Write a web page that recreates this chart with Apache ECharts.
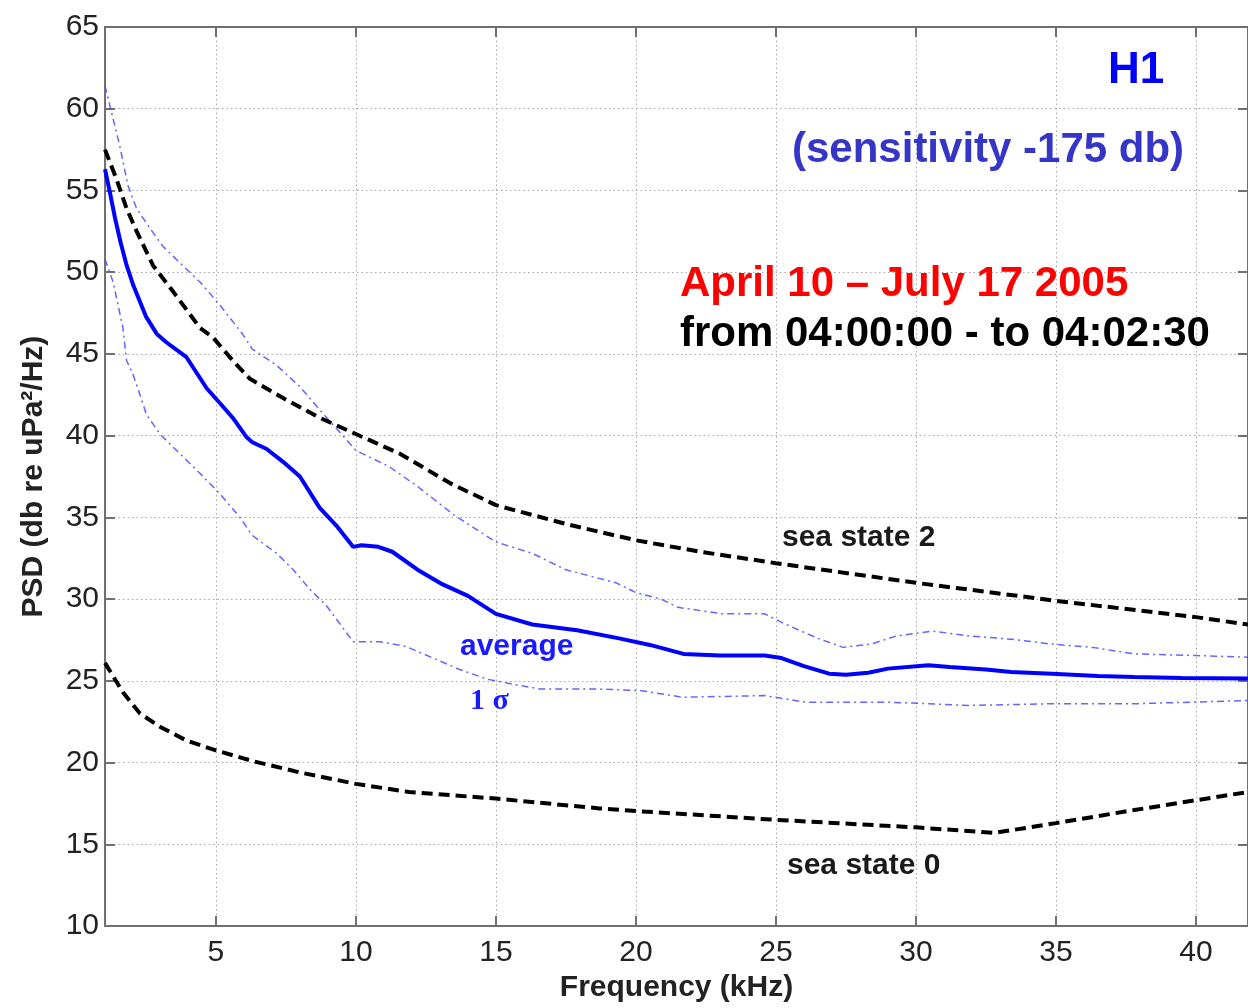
<!DOCTYPE html>
<html>
<head>
<meta charset="utf-8">
<script src="https://cdn.jsdelivr.net/npm/echarts@6/dist/echarts.min.js"></script>
<style>html,body{margin:0;padding:0;background:#fff;}#chart{width:1248px;height:1008px;}</style>
</head>
<body>
<div id="chart"></div>
<script>
// ---- data ----
const xTicks = [5, 10, 15, 20, 25, 30, 35, 40];
const yTicks = [10, 15, 20, 25, 30, 35, 40, 45, 50, 55, 60, 65];

const avgFreq = [1.04, 1.2, 1.4, 1.6, 1.8, 2.05, 2.5, 2.9, 3.24, 3.95, 4.67, 5.14, 5.6, 6.1, 6.3, 6.8, 7.4, 8.0, 8.7, 9.3, 9.9, 10.2, 10.8, 11.3, 12.2, 13.1, 14.0, 15.0, 16.3, 17.9, 19.4, 20.5, 21.7, 23.0, 24.6, 25.2, 26.0, 26.9, 27.5, 28.3, 29.0, 30.45, 31.2, 32.5, 33.4, 34.85, 36.5, 37.8, 39.5, 41.86];
const avgPsd  = [56.3, 55.0, 53.3, 51.8, 50.5, 49.2, 47.3, 46.2, 45.7, 44.8, 42.9, 42.0, 41.1, 39.9, 39.6, 39.2, 38.4, 37.5, 35.6, 34.5, 33.2, 33.3, 33.2, 32.9, 31.8, 30.9, 30.2, 29.1, 28.45, 28.1, 27.6, 27.2, 26.65, 26.55, 26.55, 26.4, 25.9, 25.44, 25.38, 25.5, 25.75, 25.95, 25.85, 25.7, 25.55, 25.44, 25.3, 25.24, 25.18, 25.15];

const upFreq = [1.04, 1.27, 1.57, 1.86, 2.17, 2.64, 3.1, 3.7, 4.43, 5.14, 5.96, 6.3, 7.17, 8.0, 8.7, 10.0, 11.2, 12.2, 13.5, 15.0, 16.3, 17.5, 19.3, 20.0, 20.9, 21.5, 23.1, 24.6, 25.3, 26.5, 27.4, 28.4, 29.3, 30.6, 31.9, 33.4, 34.85, 36.3, 37.8, 40.0, 41.86];
const upPsd  = [61.4, 59.8, 57.7, 55.3, 53.9, 52.7, 51.6, 50.6, 49.4, 48.0, 46.2, 45.3, 44.3, 43.0, 41.6, 39.1, 38.1, 36.9, 35.15, 33.5, 32.8, 31.8, 31.0, 30.4, 30.0, 29.5, 29.1, 29.1, 28.5, 27.6, 27.05, 27.25, 27.75, 28.05, 27.75, 27.55, 27.25, 27.05, 26.65, 26.55, 26.45];

const loFreq = [1.04, 1.33, 1.68, 1.81, 2.05, 2.29, 2.52, 3.0, 3.71, 4.43, 5.14, 5.86, 6.3, 7.17, 7.76, 8.36, 8.95, 9.9, 10.86, 11.8, 12.75, 13.7, 14.7, 15.6, 16.6, 18.7, 20.2, 21.66, 24.6, 26.05, 29.0, 31.9, 34.85, 37.8, 41.86];
const loPsd  = [50.8, 49.4, 46.6, 44.6, 43.7, 42.5, 41.3, 40.1, 38.9, 37.7, 36.45, 35.0, 33.9, 32.8, 31.8, 30.6, 29.6, 27.4, 27.4, 27.1, 26.4, 25.7, 25.1, 24.8, 24.5, 24.5, 24.4, 24.0, 24.1, 23.7, 23.7, 23.5, 23.6, 23.6, 23.8];

const ss2Freq = [1.04, 1.45, 1.81, 2.17, 2.76, 3.48, 4.43, 4.9, 5.6, 6.2, 7.4, 8.7, 10.0, 11.57, 13.36, 15.0, 17.5, 20.0, 22.3, 25.0, 30.0, 35.0, 40.0, 41.86];
const ss2Psd  = [57.5, 55.7, 53.9, 52.5, 50.4, 48.8, 46.6, 46.0, 44.6, 43.5, 42.3, 41.1, 40.1, 38.9, 37.1, 35.75, 34.6, 33.6, 32.9, 32.2, 31.0, 29.9, 28.9, 28.45];

const ss0Freq = [1.04, 1.68, 2.29, 3.0, 3.95, 5.0, 6.3, 8.0, 10.0, 11.9, 15.0, 18.7, 20.0, 25.0, 30.0, 32.8, 35.0, 37.8, 40.0, 41.86];
const ss0Psd  = [26.1, 24.3, 23.0, 22.2, 21.35, 20.75, 20.1, 19.4, 18.7, 18.2, 17.8, 17.2, 17.04, 16.5, 16.04, 15.7, 16.3, 17.1, 17.7, 18.2];

const xMin = 1.04, xMax = 41.86, yMin = 10, yMax = 65;

function pairs(xs, ys) { return xs.map((x, i) => [x, ys[i]]); }

const FONT = 'Liberation Sans, Arial, Helvetica, sans-serif';
const axisColor = '#707070';
const gridLine = { show: true, lineStyle: { color: '#a8a8a8', width: 1, type: [1.5, 3] } };

const chart = echarts.init(document.getElementById('chart'), null, { renderer: 'canvas' });
chart.setOption({
  animation: false,
  backgroundColor: '#ffffff',
  grid: { left: 105, right: 0, top: 27, bottom: 76, containLabel: false },
  xAxis: [
    {
      type: 'value', min: xMin, max: xMax, position: 'bottom',
      name: 'Frequency (kHz)', nameLocation: 'middle', nameGap: 46,
      nameTextStyle: { fontFamily: FONT, fontSize: 30, fontWeight: 'bold', color: '#222' },
      axisLine: { show: true, lineStyle: { color: axisColor, width: 2 } },
      axisTick: { show: true, inside: true, length: 10, customValues: xTicks, lineStyle: { color: axisColor, width: 2 } },
      axisLabel: { show: true, customValues: xTicks, fontFamily: FONT, fontSize: 30, color: '#222', margin: 12 },
      splitLine: gridLine
    },
    {
      type: 'value', min: xMin, max: xMax, position: 'top',
      axisLine: { show: true, lineStyle: { color: axisColor, width: 2 } },
      axisTick: { show: true, inside: true, length: 10, customValues: xTicks, lineStyle: { color: axisColor, width: 2 } },
      axisLabel: { show: false, customValues: xTicks },
      splitLine: { show: false }
    }
  ],
  yAxis: [
    {
      type: 'value', min: yMin, max: yMax, interval: 5, position: 'left',
      name: 'PSD (db re uPa²/Hz)', nameLocation: 'middle', nameGap: 56,
      nameTextStyle: { fontFamily: FONT, fontSize: 30, fontWeight: 'bold', color: '#222' },
      axisLine: { show: true, lineStyle: { color: axisColor, width: 2 } },
      axisTick: { show: true, inside: true, length: 10, lineStyle: { color: axisColor, width: 2 } },
      axisLabel: { show: true, fontFamily: FONT, fontSize: 30, color: '#222', margin: 6 },
      splitLine: gridLine
    },
    {
      type: 'value', min: yMin, max: yMax, interval: 5, position: 'right',
      axisLine: { show: true, lineStyle: { color: axisColor, width: 2 } },
      axisTick: { show: true, inside: true, length: 10, lineStyle: { color: axisColor, width: 2 } },
      axisLabel: { show: false },
      splitLine: { show: false }
    }
  ],
  series: [
    { name: 'sea state 2', type: 'line', data: pairs(ss2Freq, ss2Psd), symbol: 'none', z: 3,
      lineStyle: { color: '#000', width: 4, type: [11, 6] } },
    { name: 'sea state 0', type: 'line', data: pairs(ss0Freq, ss0Psd), symbol: 'none', z: 3,
      lineStyle: { color: '#000', width: 4, type: [11, 6] } },
    { name: '+1 sigma', type: 'line', data: pairs(upFreq, upPsd), symbol: 'none', z: 2,
      lineStyle: { color: '#4a4aff', width: 1.5, type: [7, 4, 2, 4], opacity: 0.85 } },
    { name: '-1 sigma', type: 'line', data: pairs(loFreq, loPsd), symbol: 'none', z: 2,
      lineStyle: { color: '#4a4aff', width: 1.5, type: [7, 4, 2, 4], opacity: 0.85 } },
    { name: 'average', type: 'line', data: pairs(avgFreq, avgPsd), symbol: 'none', z: 4,
      lineStyle: { color: '#0000ff', width: 4 } }
  ],
  graphic: [
    { type: 'text', left: 1108, top: 49, z: 10,
      style: { text: 'H1', fontFamily: FONT, fontSize: 44, fontWeight: 'bold', fill: '#0000ff' } },
    { type: 'text', left: 792, top: 129, z: 10,
      style: { text: '(sensitivity -175 db)', fontFamily: FONT, fontSize: 42, fontWeight: 'bold', fill: '#3535c8' } },
    { type: 'text', left: 680, top: 263, z: 10,
      style: { text: 'April 10 – July 17 2005', fontFamily: FONT, fontSize: 42, fontWeight: 'bold', fill: '#ff0000' } },
    { type: 'text', left: 680, top: 313, z: 10,
      style: { text: 'from 04:00:00 - to 04:02:30', fontFamily: FONT, fontSize: 42, fontWeight: 'bold', fill: '#000' } },
    { type: 'text', left: 782, top: 523, z: 10,
      style: { text: 'sea state 2', fontFamily: FONT, fontSize: 30, fontWeight: 'bold', fill: '#1a1a1a' } },
    { type: 'text', left: 787, top: 851, z: 10,
      style: { text: 'sea state 0', fontFamily: FONT, fontSize: 30, fontWeight: 'bold', fill: '#1a1a1a' } },
    { type: 'text', left: 460, top: 632, z: 10,
      style: { text: 'average', fontFamily: FONT, fontSize: 30, fontWeight: 'bold', fill: '#1a1aff' } },
    { type: 'text', left: 470, top: 686, z: 10,
      style: { text: '1 σ', fontFamily: 'Liberation Serif, Times New Roman, serif', fontSize: 30, fontWeight: 'bold', fill: '#1a1aff' } }
  ]
});
</script>
</body>
</html>
